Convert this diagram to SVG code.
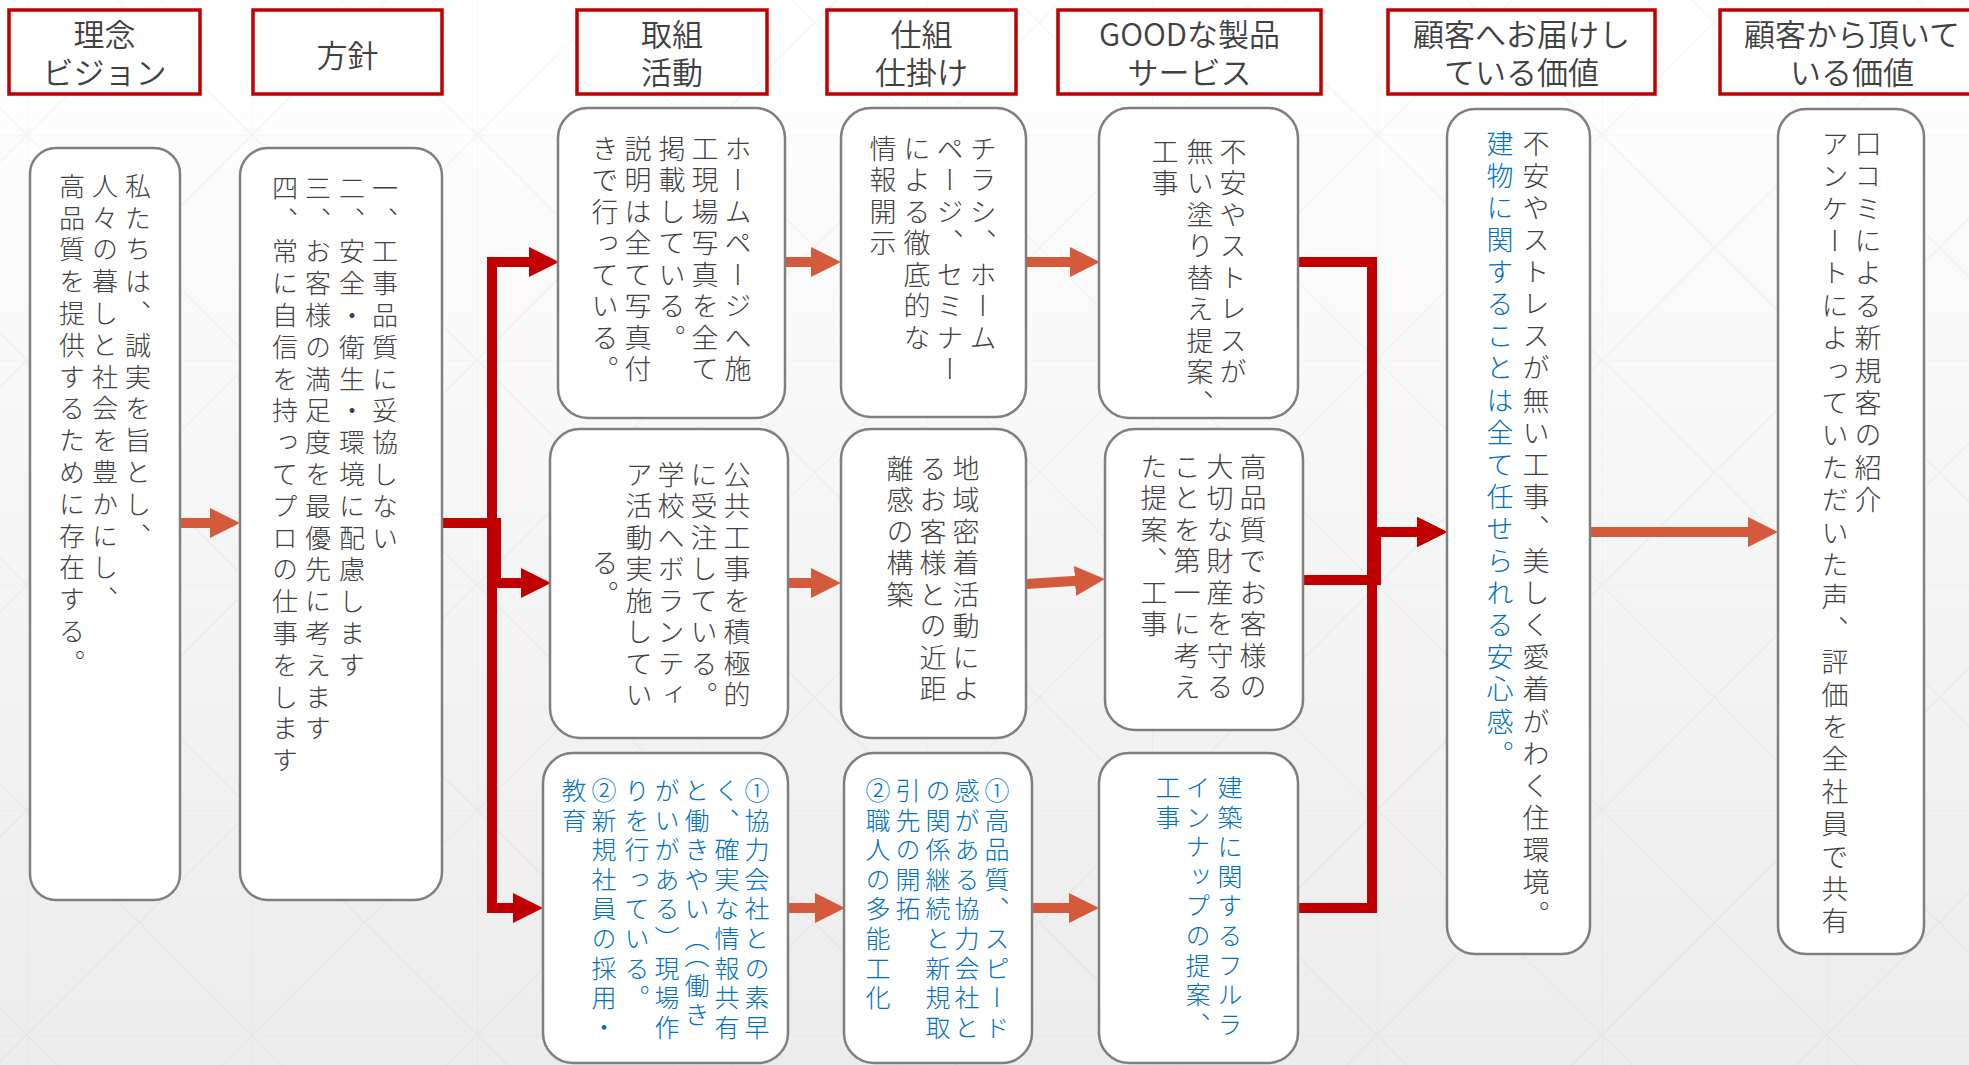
<svg xmlns="http://www.w3.org/2000/svg" width="1969" height="1065" viewBox="0 0 1969 1065">
<defs>
  <linearGradient id="bg" x1="0" y1="0" x2="0" y2="1">
    <stop offset="0" stop-color="#ffffff"/>
    <stop offset="1" stop-color="#ececec"/>
  </linearGradient>
  <pattern id="grid" width="225" height="225" patternUnits="userSpaceOnUse" x="27" y="135">
    <path d="M0,0 H225 M0,0 V225 M0,0 L225,225 M225,0 L0,225" stroke="#000" stroke-opacity="0.04" stroke-width="1.2" fill="none"/>
  </pattern>
  <marker id="ho" viewBox="0 0 30 30" markerUnits="userSpaceOnUse" markerWidth="30" markerHeight="30" refX="2" refY="15" orient="auto">
    <path d="M0,0 L30,15 L0,30 Z" fill="#D35B3C"/>
  </marker>
  <marker id="hr" viewBox="0 0 30 30" markerUnits="userSpaceOnUse" markerWidth="30" markerHeight="30" refX="2" refY="15" orient="auto">
    <path d="M0,0 L30,15 L0,30 Z" fill="#C00000"/>
  </marker>
  <style>
    .hd { fill: #ffffff; stroke: #C00000; stroke-width: 3.5; }
    .ht { font-family: "Noto Sans CJK JP", "Noto Sans", sans-serif; font-weight: 350; font-size: 31px; fill: #404040; text-anchor: middle; }
    .bx { fill: #ffffff; stroke: #7f7f7f; stroke-width: 2.5; }
    .v { writing-mode: vertical-rl; font-family: "Noto Sans CJK JP", sans-serif; font-weight: 300; fill: #404040; }
    .s1 { font-size: 26px; letter-spacing: 5.8px; }
    .s2 { font-size: 27px; letter-spacing: 4.5px; }
    .s3 { font-size: 25px; letter-spacing: 4.6px; }
    .s4 { font-size: 27px; letter-spacing: 5.1px; }
    .s5 { font-size: 27px; letter-spacing: 5.4px; }
    .bl { fill: #0070C0; }
    .co { stroke: #D35B3C; stroke-width: 10; fill: none; }
    .cr { stroke: #C00000; stroke-width: 10; fill: none; stroke-linejoin: miter; }
  </style>
</defs>

<rect x="0" y="0" width="1969" height="1065" fill="url(#bg)"/>
<rect x="0" y="0" width="1969" height="1065" fill="url(#grid)"/>

<!-- headers -->
<g id="h1"><rect class="hd" x="9" y="10" width="191" height="84"/><text class="ht" x="104.5" y="46">理念</text><text class="ht" x="104.5" y="84">ビジョン</text></g>
<g id="h2"><rect class="hd" x="253" y="10" width="189" height="84"/><text class="ht" x="347.5" y="67">方針</text></g>
<g id="h3"><rect class="hd" x="577" y="10" width="190" height="84"/><text class="ht" x="672" y="46">取組</text><text class="ht" x="672" y="84">活動</text></g>
<g id="h4"><rect class="hd" x="827" y="10" width="189" height="84"/><text class="ht" x="921.5" y="46">仕組</text><text class="ht" x="921.5" y="84">仕掛け</text></g>
<g id="h5"><rect class="hd" x="1058" y="10" width="263" height="84"/><text class="ht" x="1189.5" y="46">GOODな製品</text><text class="ht" x="1189.5" y="84">サービス</text></g>
<g id="h6"><rect class="hd" x="1388" y="10" width="267" height="84"/><text class="ht" x="1521.5" y="46">顧客へお届けし</text><text class="ht" x="1521.5" y="84">ている価値</text></g>
<g id="h7"><rect class="hd" x="1720" y="10" width="267" height="84"/><text class="ht" x="1852" y="46">顧客から頂いて</text><text class="ht" x="1852" y="84">いる価値</text></g>

<!-- connectors -->
<g id="connectors">
  <line class="co" x1="180" y1="523" x2="212" y2="523" marker-end="url(#ho)"/>
  <line class="co" x1="786" y1="262" x2="813" y2="262" marker-end="url(#ho)"/>
  <line class="co" x1="1026" y1="262" x2="1072" y2="262" marker-end="url(#ho)"/>
  <line class="co" x1="788" y1="583" x2="813" y2="583" marker-end="url(#ho)"/>
  <line class="co" x1="1026" y1="584" x2="1077" y2="580.8" marker-end="url(#ho)"/>
  <line class="co" x1="788" y1="908" x2="817" y2="908" marker-end="url(#ho)"/>
  <line class="co" x1="1032" y1="908" x2="1071" y2="908" marker-end="url(#ho)"/>
  <line class="co" x1="1590" y1="532" x2="1750" y2="532" marker-end="url(#ho)"/>
  <path class="cr" d="M443,523 H492 V262 H531" marker-end="url(#hr)"/>
  <path class="cr" d="M443,523 H496 V583 H523" marker-end="url(#hr)"/>
  <path class="cr" d="M443,523 H492 V908 H515" marker-end="url(#hr)"/>
  <path class="cr" d="M1298,262 H1372 V532 H1419" marker-end="url(#hr)"/>
  <path class="cr" d="M1303,580 H1376 V532 H1419" marker-end="url(#hr)"/>
  <path class="cr" d="M1298,908 H1372 V532 H1419" marker-end="url(#hr)"/>
</g>

<!-- column 1 -->
<g id="n-rinen">
  <rect class="bx" x="30" y="148" width="150" height="752" rx="26"/>
  <text class="v s1" x="138" y="173">私たちは、誠実を旨とし、</text>
  <text class="v s1" x="105" y="173">人々の暮しと社会を豊かにし、</text>
  <text class="v s1" x="72" y="173">高品質を提供するために存在する。</text>
</g>
<g id="n-houshin">
  <rect class="bx" x="240" y="148" width="202" height="752" rx="28"/>
  <text class="v s1" x="385" y="175">一、工事品質に妥協しない</text>
  <text class="v s1" x="352" y="175">二、安全・衛生・環境に配慮します</text>
  <text class="v s1" x="318" y="175">三、お客様の満足度を最優先に考えます</text>
  <text class="v s1" x="285" y="175">四、常に自信を持ってプロの仕事をします</text>
</g>

<!-- column 3 -->
<g id="n-torikumi-1">
  <rect class="bx" x="558" y="108" width="227" height="310" rx="30"/>
  <text class="v s2" x="738" y="135">ホームページへ施</text>
  <text class="v s2" x="705" y="135">工現場写真を全て</text>
  <text class="v s2" x="672" y="135">掲載している。</text>
  <text class="v s2" x="638" y="135">説明は全て写真付</text>
  <text class="v s2" x="605" y="135">きで行っている。</text>
</g>
<g id="n-torikumi-2">
  <rect class="bx" x="550" y="429" width="238" height="309" rx="30"/>
  <text class="v s2" x="737" y="461">公共工事を積極的</text>
  <text class="v s2" x="704" y="461">に受注している。</text>
  <text class="v s2" x="671" y="461">学校へボランティ</text>
  <text class="v s2" x="639" y="461">ア活動実施してい</text>
  <text class="v s2" x="605" y="549">る。</text>
</g>
<g id="n-torikumi-3">
  <rect class="bx" x="543" y="753" width="245" height="310" rx="30"/>
  <text class="v s3 bl" x="757" y="778">①協力会社との素早</text>
  <text class="v s3 bl" x="727" y="778">く、確実な情報共有</text>
  <text class="v s3 bl" x="697" y="778">と働きやい（（働き</text>
  <text class="v s3 bl" x="667" y="778">がいがある）現場作</text>
  <text class="v s3 bl" x="637" y="778">りを行っている。</text>
  <text class="v s3 bl" x="604" y="778">②新規社員の採用・</text>
  <text class="v s3 bl" x="574" y="778">教育</text>
</g>

<!-- column 4 -->
<g id="n-shikumi-1">
  <rect class="bx" x="841" y="108" width="185" height="309" rx="30"/>
  <text class="v s2" x="983" y="135">チラシ、ホーム</text>
  <text class="v s2" x="950" y="135">ページ、セミナー</text>
  <text class="v s2" x="917" y="135">による徹底的な</text>
  <text class="v s2" x="883" y="135">情報開示</text>
</g>
<g id="n-shikumi-2">
  <rect class="bx" x="841" y="429" width="185" height="309" rx="30"/>
  <text class="v s2" x="966" y="455">地域密着活動によ</text>
  <text class="v s2" x="933" y="455">るお客様との近距</text>
  <text class="v s2" x="900" y="455">離感の構築</text>
</g>
<g id="n-shikumi-3">
  <rect class="bx" x="844" y="753" width="188" height="310" rx="30"/>
  <text class="v s3 bl" x="997" y="778">①高品質、スピード</text>
  <text class="v s3 bl" x="967" y="778">感がある協力会社と</text>
  <text class="v s3 bl" x="938" y="778">の関係継続と新規取</text>
  <text class="v s3 bl" x="908" y="778">引先の開拓</text>
  <text class="v s3 bl" x="878" y="778">②職人の多能工化</text>
</g>

<!-- column 5 -->
<g id="n-good-1">
  <rect class="bx" x="1099" y="108" width="199" height="310" rx="30"/>
  <text class="v s2" x="1233" y="138">不安やストレスが</text>
  <text class="v s2" x="1200" y="138">無い塗り替え提案、</text>
  <text class="v s2" x="1165" y="138">工事</text>
</g>
<g id="n-good-2">
  <rect class="bx" x="1105" y="429" width="198" height="301" rx="30"/>
  <text class="v s2" x="1253" y="453">高品質でお客様の</text>
  <text class="v s2" x="1220" y="453">大切な財産を守る</text>
  <text class="v s2" x="1187" y="453">ことを第一に考え</text>
  <text class="v s2" x="1154" y="453">た提案、工事</text>
</g>
<g id="n-good-3">
  <rect class="bx" x="1099" y="753" width="199" height="310" rx="30"/>
  <text class="v s3 bl" x="1230" y="775">建築に関するフルラ</text>
  <text class="v s3 bl" x="1198" y="775">インナップの提案、</text>
  <text class="v s3 bl" x="1168" y="775">工事</text>
</g>

<!-- column 6 -->
<g id="n-todoke">
  <rect class="bx" x="1447" y="109" width="143" height="845" rx="28"/>
  <text class="v s4" x="1536" y="130">不安やストレスが無い工事、美しく愛着がわく住環境。</text>
  <text class="v s4 bl" x="1500" y="130">建物に関することは全て任せられる安心感。</text>
</g>

<!-- column 7 -->
<g id="n-itadaki">
  <rect class="bx" x="1778" y="109" width="146" height="845" rx="28"/>
  <text class="v s5" x="1868" y="130">口コミによる新規客の紹介</text>
  <text class="v s5" x="1835" y="130">アンケートによっていただいた声、評価を全社員で共有</text>
</g>
</svg>
